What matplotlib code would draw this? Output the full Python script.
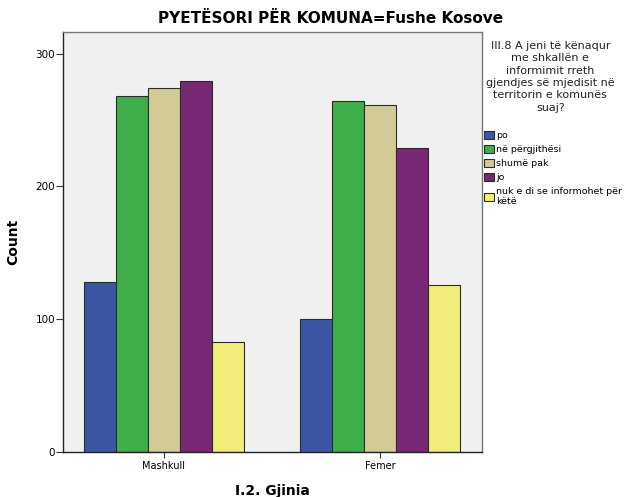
import numpy as np
import matplotlib.pyplot as plt
from matplotlib.patches import Patch

# data
genders = ['Mashkull', 'Femer']
answers = ['po', 'në përgjithësi', 'shumë pak', 'jo',
           'nuk e di se informohet për\nkëtë']
po = [128, 100]
ne_pergjithesi = [268, 264]
shume_pak = [274, 261]
jo = [279, 229]
nuk_e_di = [83, 126]
colors = ['#3d56a3', '#3fae4a', '#d3cb97', '#772774', '#f2ec7b']

series = [po, ne_pergjithesi, shume_pak, jo, nuk_e_di]

fig = plt.figure(figsize=(6.24, 4.97), dpi=100)
ax = fig.add_axes([0.1015, 0.090, 0.6705, 0.845])
ax.set_facecolor('#f0f0f0')

x = np.arange(len(genders))
w = 0.148
for i, vals in enumerate(series):
    ax.bar(x + (i - 2) * w, vals, w, color=colors[i], edgecolor='#2b2b2b',
           linewidth=0.8, label=answers[i], zorder=2)

ax.set_xlim(-0.464, 1.47)
ax.set_ylim(0, 316)
ax.set_yticks([0, 100, 200, 300])
ax.set_xticks(x)
ax.set_xticklabels(genders, fontsize=7)
ax.tick_params(axis='y', labelsize=7.5, length=5, width=0.8, color='#333333', pad=1)
ax.tick_params(axis='x', length=4, width=0.8, color='#333333', pad=2)
for s in ['left', 'bottom']:
    ax.spines[s].set_color('#222222')
    ax.spines[s].set_linewidth(1.0)
for s in ['top', 'right']:
    ax.spines[s].set_color('#777777')
    ax.spines[s].set_linewidth(1.0)

ax.set_ylabel('Count', fontsize=10, fontweight='bold')
ax.yaxis.set_label_coords(-0.103, 0.5)
ax.set_xlabel('I.2. Gjinia', fontsize=10, fontweight='bold')
ax.xaxis.set_label_coords(0.5, -0.075)
fig.text(0.53, 0.963, 'PYETËSORI PËR KOMUNA=Fushe Kosove', ha='center', va='center',
         fontsize=11, fontweight='bold')

# legend title and entries
fig.text(0.882, 0.918, 'III.8 A jeni të kënaqur\nme shkallën e\ninformimit rreth\n'
         'gjendjes së mjedisit në\nterritorin e komunës\nsuaj?',
         ha='center', va='top', fontsize=8, linespacing=1.3, color='#222222')
handles = [Patch(facecolor=c, edgecolor='#2b2b2b', linewidth=0.8) for c in colors]
fig.legend(handles, answers, loc='upper left', bbox_to_anchor=(0.770, 0.745),
           frameon=False, fontsize=6.8, handlelength=1.0, handleheight=0.95,
           handletextpad=0.25, labelspacing=0.5, borderaxespad=0)

fig.savefig('out.png', dpi=100)
